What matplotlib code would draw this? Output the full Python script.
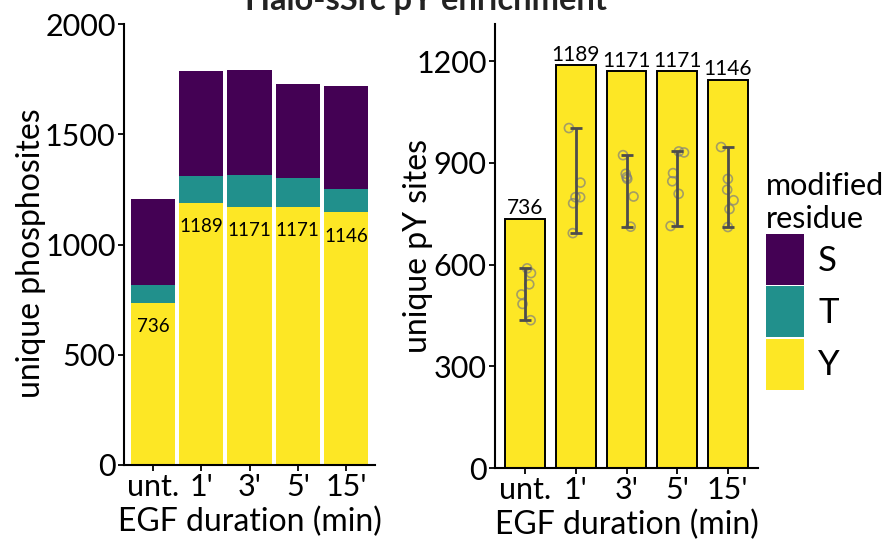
import numpy as np
import matplotlib
matplotlib.use("Agg")
import matplotlib.pyplot as plt
from matplotlib.patches import Patch

# ---------------------------------------------------------------------------
# Data
# ---------------------------------------------------------------------------
durations = ["unt.", "1'", "3'", "5'", "15'"]
residues = ["S", "T", "Y"]

# left panel: stacked unique phosphosites per residue
count_Y = [736, 1189, 1171, 1171, 1146]
count_T = [80, 122, 144, 132, 106]
count_S = [390, 476, 476, 426, 467]

# right panel: union of pY sites and per-replicate counts
py_union = [736, 1189, 1171, 1171, 1146]
py_reps = [
    [589, 575, 542, 512, 484, 436],
    [1003, 842, 799, 799, 781, 693],
    [923, 868, 858, 853, 801, 712],
    [934, 931, 870, 846, 809, 714],
    [947, 853, 821, 790, 764, 711],
]

title = "Halo-sSrc pY enrichment"

COL = {"S": "#440154", "T": "#21908C", "Y": "#FDE725"}

plt.rcParams["font.family"] = ["Lato", "DejaVu Sans"]
plt.rcParams["font.size"] = 22

fig = plt.figure(figsize=(8.92, 5.47), dpi=100)
W, H = 892, 547


def px_axes(l, r, t, b):
    return fig.add_axes([l / W, (H - b) / H, (r - l) / W, (b - t) / H])


def style_axes(ax):
    for s in ["top", "right"]:
        ax.spines[s].set_visible(False)
    for s in ["left", "bottom"]:
        ax.spines[s].set_linewidth(1.5)
    ax.tick_params(width=1.3, length=4, labelsize=22, pad=2)
    ax.set_xlim(-0.6, len(durations) - 0.4)
    ax.set_xticks(range(len(durations)))
    ax.set_xticklabels(durations)
    ax.set_xlabel("EGF duration (min)", fontsize=23, labelpad=4)


# ---------------------------------------------------------------------------
# Left: stacked bars
# ---------------------------------------------------------------------------
ax1 = px_axes(124, 375, 24, 465)
x = np.arange(len(durations))
bw = 0.92
ax1.bar(x, count_Y, bw, color=COL["Y"], linewidth=0)
ax1.bar(x, count_T, bw, bottom=count_Y, color=COL["T"], linewidth=0)
ax1.bar(x, count_S, bw, bottom=np.add(count_Y, count_T), color=COL["S"], linewidth=0)
for xi, v in zip(x, count_Y):
    ax1.annotate(str(v), (xi, v), xytext=(0, -11), textcoords="offset points",
                 ha="center", va="top", fontsize=13.5)
ax1.set_ylim(0, 2000)
ax1.set_yticks([0, 500, 1000, 1500, 2000])
ax1.set_ylabel("unique phosphosites", fontsize=23)
style_axes(ax1)
ax1.yaxis.set_label_coords(-0.31, 0.48)

# ---------------------------------------------------------------------------
# Right: pY sites with replicate points and range bars
# ---------------------------------------------------------------------------
ax2 = px_axes(495, 758, 24, 468)
ax2.bar(x, py_union, 0.79, color=COL["Y"], edgecolor="black", linewidth=1.4, zorder=1)
for xi, v in zip(x, py_union):
    ax2.annotate(str(v), (xi, v), xytext=(0, 3), textcoords="offset points",
                 ha="center", va="baseline", fontsize=15)

rng = np.random.default_rng(7)
for xi, reps in zip(x, py_reps):
    jit = rng.uniform(-0.14, 0.14, len(reps))
    ax2.scatter(xi + jit, reps, s=42, facecolors="none", edgecolors="#7f7f7f",
                linewidths=1.2, alpha=0.7, zorder=2)
    lo, hi = min(reps), max(reps)
    mid = (lo + hi) / 2
    ax2.errorbar(xi, mid, yerr=[[mid - lo], [hi - mid]], fmt="none",
                 ecolor="#4d4d4d", elinewidth=2, capsize=4.3, capthick=2, zorder=3)

ax2.set_ylim(0, 1310)
ax2.set_yticks([0, 300, 600, 900, 1200])
ax2.set_ylabel("unique pY sites", fontsize=23)
style_axes(ax2)
ax2.yaxis.set_label_coords(-0.235, 0.5)

# legend
handles = [Patch(facecolor=COL[r], edgecolor="none") for r in residues]
leg = fig.legend(handles, residues, title="modified\nresidue", loc="upper left",
                 bbox_to_anchor=(766 / W, (H - 172) / H), frameon=False,
                 fontsize=25, title_fontsize=22, handlelength=1.1, handleheight=1.88,
                 labelspacing=0.04, handletextpad=0.4, borderpad=0, borderaxespad=0)
leg._legend_box.align = "left"

fig.text(426 / W, (H - 10) / H, title, ha="center", va="baseline",
         fontsize=23.5, fontweight="bold", color="#222222")

fig.savefig("out.png", dpi=100)
